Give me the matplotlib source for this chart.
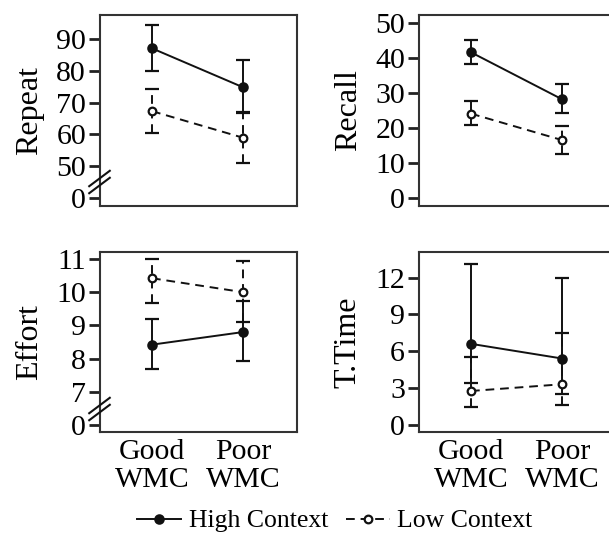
import matplotlib

matplotlib.use("Agg")
import matplotlib.pyplot as plt
import matplotlib.transforms as mtransforms
import numpy as np

plt.rcParams["font.family"] = ["Liberation Serif", "DejaVu Serif"]

groups = ["Good\nWMC", "Poor\nWMC"]
series = ["High Context", "Low Context"]

# means, lower bound, upper bound (per group)
repeat_high = [87.1, 74.8]
repeat_high_lo = [80.1, 67.1]
repeat_high_hi = [94.6, 83.4]
repeat_low = [67.3, 58.9]
repeat_low_lo = [60.4, 50.8]
repeat_low_hi = [74.4, 66.6]

recall_high = [41.7, 28.2]
recall_high_lo = [38.4, 24.3]
recall_high_hi = [45.3, 32.5]
recall_low = [24.1, 16.5]
recall_low_lo = [20.8, 12.5]
recall_low_hi = [27.7, 20.6]

effort_high = [8.42, 8.80]
effort_high_lo = [7.70, 7.93]
effort_high_hi = [9.20, 9.72]
effort_low = [10.42, 10.00]
effort_low_lo = [9.67, 9.10]
effort_low_hi = [11.00, 10.93]

ttime_high = [6.6, 5.4]
ttime_high_lo = [3.4, 2.5]
ttime_high_hi = [13.1, 12.0]
ttime_low = [2.75, 3.3]
ttime_low_lo = [1.45, 1.6]
ttime_low_hi = [5.5, 7.45]

# (label, high, low, ticks, ticklabels, ylim, break position)
panels = [
    ("Repeat", [repeat_high, repeat_high_lo, repeat_high_hi], [repeat_low, repeat_low_lo, repeat_low_hi],
     [40, 50, 60, 70, 80, 90], ["0", "50", "60", "70", "80", "90"], (37.4, 97.6), 45),
    ("Recall", [recall_high, recall_high_lo, recall_high_hi], [recall_low, recall_low_lo, recall_low_hi],
     [0, 10, 20, 30, 40, 50], ["0", "10", "20", "30", "40", "50"], (-2.4, 52.4), None),
    ("Effort", [effort_high, effort_high_lo, effort_high_hi], [effort_low, effort_low_lo, effort_low_hi],
     [6, 7, 8, 9, 10, 11], ["0", "7", "8", "9", "10", "11"], (5.79, 11.21), 6.5),
    ("T.Time", [ttime_high, ttime_high_lo, ttime_high_hi], [ttime_low, ttime_low_lo, ttime_low_hi],
     [0, 3, 6, 9, 12], ["0", "3", "6", "9", "12"], (-0.6, 14.1), None),
]

W, H = 609, 535
fig = plt.figure(figsize=(W / 100, H / 100), dpi=100)

boxes = [(100, 15, 197, 191), (419, 15, 197, 191), (100, 252, 197, 180), (419, 252, 197, 180)]
ink = "#111111"
x = np.arange(len(groups))
handles = []

for i, (name, hi, lo, ticks, tlabels, ylim, brk) in enumerate(panels):
    l, t, w, h = boxes[i]
    ax = fig.add_axes([l / W, 1 - (t + h) / H, w / W, h / H])

    for vals, style in ((hi, "hi"), (lo, "lo")):
        m = np.array(vals[0])
        err = [m - np.array(vals[1]), np.array(vals[2]) - m]
        dashed = style == "lo"
        eb = ax.errorbar(
            x, m, yerr=err, color=ink, lw=1.4, elinewidth=1.4, capsize=5, capthick=1.4,
            ls="--" if dashed else "-", dashes=(4.5, 3) if dashed else (None, None),
            marker="o", ms=6 if not dashed else 5.5, mfc="white" if dashed else ink,
            mec=ink, mew=1.6, zorder=3 if dashed else 2,
        )
        if dashed:
            eb[2][0].set_linestyle((0, (4.5, 3)))
        if i == 0:
            handles.append(eb[0])

    ax.set_xlim(-0.57, 1.59)
    ax.set_ylim(*ylim)
    ax.set_yticks(ticks)
    ax.set_yticklabels(tlabels)
    ax.set_xticks(x)
    if i >= 2:
        ax.set_xticklabels(groups, linespacing=1.08)
    else:
        ax.set_xticklabels([])
    ax.tick_params(axis="x", length=0, pad=5, labelsize=21.5)
    ax.tick_params(axis="y", length=8, width=2, pad=2, labelsize=21.5, color="#222222")
    for s in ax.spines.values():
        s.set_linewidth(1.5)
        s.set_color("#333333")
    ax.set_ylabel(name, fontsize=23, labelpad=9)

    if brk is not None:
        base = ax.get_yaxis_transform()
        for dy in (-3.5, 3.5):
            tr = mtransforms.offset_copy(base, fig=fig, x=-1, y=dy, units="dots")
            ax.plot([0], [brk], marker=[(-1, -0.75), (1, 0.75)], ms=16, mew=1.5, color=ink,
                    transform=tr, clip_on=False, zorder=5)

fig.legend(handles, series, loc="center", bbox_to_anchor=(335 / W, 1 - 521 / H), ncol=2,
           frameon=False, fontsize=18.5, handlelength=1.7, handletextpad=0.3, columnspacing=0.7,
           borderaxespad=0)

fig.savefig("out.png", dpi=100)
